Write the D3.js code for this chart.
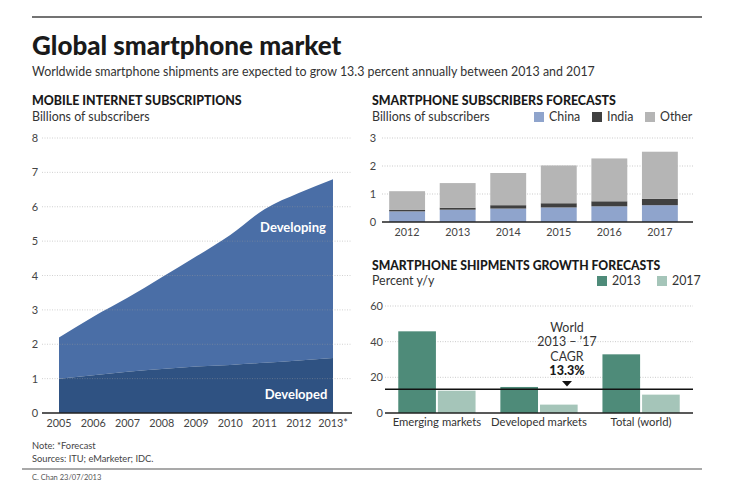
<!DOCTYPE html>
<html><head><meta charset="utf-8">
<script src="https://cdn.jsdelivr.net/npm/d3@7/dist/d3.min.js"></script>
<style>
html,body{margin:0;padding:0;background:#fff;}
svg{display:block;font-family:Lato,"Open Sans",sans-serif;}
</style></head>
<body>
<svg id="c" width="738" height="493"></svg>
<script>
// ---- Data ----
const areaYears = [2005, 2006, 2007, 2008, 2009, 2010, 2011, 2012, 2013];
const areaYearLabels = ["2005","2006","2007","2008","2009","2010","2011","2012","2013*"];
const developed = [1.0, 1.1, 1.2, 1.28, 1.35, 1.4, 1.46, 1.53, 1.6];
const totalSubs = [2.2, 2.8, 3.35, 3.95, 4.55, 5.18, 5.93, 6.4, 6.8];
const areaTicks = [0,1,2,3,4,5,6,7,8];

const forecastYears = ["2012","2013","2014","2015","2016","2017"];
const china = [0.38, 0.44, 0.48, 0.52, 0.56, 0.60];
const india = [0.05, 0.07, 0.12, 0.15, 0.18, 0.23];
const other = [0.67, 0.88, 1.15, 1.35, 1.53, 1.68];
const forecastTicks = [0,1,2,3];

const markets = ["Emerging markets","Developed markets","Total (world)"];
const growth2013 = [45.8, 14.6, 32.9];
const growth2017 = [12.5, 4.7, 10.3];
const growthTicks = [0,20,40,60];
const cagr = 13.3;

// ---- Setup ----
const svg = d3.select("#c");
const txt = (x, y, s, o = {}) => svg.append("text").attr("x", x).attr("y", y).text(s)
  .attr("font-size", o.size || 12).attr("fill", o.fill || "#333")
  .attr("font-weight", o.weight || "normal").attr("text-anchor", o.anchor || "start");

// Header
svg.append("line").attr("x1", 32).attr("x2", 702).attr("y1", 17).attr("y2", 17).attr("stroke", "#444").attr("stroke-width", 1.5);
txt(32, 55, "Global smartphone market", {size: 26, weight: "900", fill: "#1a1a1a"});
txt(32, 76, "Worldwide smartphone shipments are expected to grow 13.3 percent annually between 2013 and 2017", {size: 12.4, fill: "#333"});

// ---- Left: area chart ----
const xA = d3.scaleLinear().domain([2005, 2013]).range([59, 333]);
const yA = d3.scaleLinear().domain([0, 8]).range([413, 138]);
txt(32, 105, "MOBILE INTERNET SUBSCRIPTIONS", {size: 12.4, weight: "900", fill: "#1a1a1a"});
txt(32, 121, "Billions of subscribers", {size: 12.4, fill: "#333"});

const areaData = areaYears.map((y, i) => ({year: y, dev: developed[i], tot: totalSubs[i]}));
const curve = d3.curveMonotoneX;
svg.append("path").datum(areaData)
  .attr("d", d3.area().x(d => xA(d.year)).y0(d => yA(d.dev)).y1(d => yA(d.tot)).curve(curve))
  .attr("fill", "#4a6ea6");
svg.append("path").datum(areaData)
  .attr("d", d3.area().x(d => xA(d.year)).y0(yA(0)).y1(d => yA(d.dev)).curve(curve))
  .attr("fill", "#2f5282");

// gridlines
const gA = svg.append("g");
gA.selectAll("line.g").data(areaTicks.filter(t => t > 0)).join("line")
  .attr("x1", 42).attr("x2", 352).attr("y1", d => yA(d)).attr("y2", d => yA(d))
  .attr("stroke", "#999").attr("stroke-opacity", 0.45).attr("stroke-width", 1).attr("stroke-dasharray", "1,1.5");
gA.selectAll("text").data(areaTicks).join("text")
  .attr("x", 35).attr("y", d => yA(d) + 4).attr("text-anchor", "middle")
  .attr("font-size", 11).attr("fill", "#444").text(d => d);
svg.append("line").attr("x1", 42).attr("x2", 352).attr("y1", yA(0)).attr("y2", yA(0)).attr("stroke", "#222").attr("stroke-width", 1.3);
svg.selectAll("text.xa").data(areaYears).join("text").attr("class", "xa")
  .attr("x", d => xA(d)).attr("y", 427).attr("text-anchor", "middle")
  .attr("font-size", 10.8).attr("fill", "#444").text((d, i) => areaYearLabels[i]);
txt(293, 232, "Developing", {size: 13, weight: "bold", fill: "#fff", anchor: "middle"});
txt(296, 399, "Developed", {size: 13, weight: "bold", fill: "#fff", anchor: "middle"});

// Footer
txt(32, 449, "Note: *Forecast", {size: 9.3, fill: "#444"});
txt(32, 462, "Sources: ITU; eMarketer; IDC.", {size: 9.3, fill: "#444"});
svg.append("line").attr("x1", 22).attr("x2", 702).attr("y1", 469).attr("y2", 469).attr("stroke", "#555").attr("stroke-width", 1.2);
txt(32, 480, "C. Chan 23/07/2013", {size: 7.5, fill: "#555"});

// ---- Top right: stacked bars ----
txt(372, 105, "SMARTPHONE SUBSCRIBERS FORECASTS", {size: 12.4, weight: "900", fill: "#1a1a1a"});
txt(372, 121, "Billions of subscribers", {size: 12.4, fill: "#333"});
const stackColors = {china: "#8fa4cc", india: "#404040", other: "#b5b5b5"};
const legend1 = [["china", "China", 534], ["india", "India", 592], ["other", "Other", 645]];
legend1.forEach(([k, lab, x]) => {
  svg.append("rect").attr("x", x).attr("y", 112).attr("width", 10).attr("height", 10).attr("fill", stackColors[k]);
  txt(x + 15, 121, lab, {size: 12.4, fill: "#333"});
});
const xB = d3.scaleBand().domain(forecastYears).range([374, 693]).paddingInner(0.29).paddingOuter(0.3);
const yB = d3.scaleLinear().domain([0, 3]).range([222, 138]);
svg.selectAll("line.gb").data(forecastTicks.filter(t => t > 0)).join("line").attr("class", "gb")
  .attr("x1", 382).attr("x2", 693).attr("y1", d => yB(d)).attr("y2", d => yB(d))
  .attr("stroke", "#999").attr("stroke-opacity", 0.5).attr("stroke-dasharray", "1,1.5");
svg.selectAll("text.yb").data(forecastTicks).join("text").attr("class", "yb")
  .attr("x", 373).attr("y", d => yB(d) + 4).attr("text-anchor", "middle")
  .attr("font-size", 11).attr("fill", "#444").text(d => d);
const stackData = forecastYears.map((y, i) => ({year: y, china: china[i], india: india[i], other: other[i]}));
const series = d3.stack().keys(["china", "india", "other"])(stackData);
svg.append("g").selectAll("g").data(series).join("g").attr("fill", s => stackColors[s.key])
  .selectAll("rect").data(s => s).join("rect")
  .attr("x", d => xB(d.data.year)).attr("width", xB.bandwidth())
  .attr("y", d => yB(d[1])).attr("height", d => yB(d[0]) - yB(d[1]));
svg.append("line").attr("x1", 382).attr("x2", 693).attr("y1", yB(0)).attr("y2", yB(0)).attr("stroke", "#222").attr("stroke-width", 1.3);
svg.selectAll("text.xb").data(forecastYears).join("text").attr("class", "xb")
  .attr("x", d => xB(d) + xB.bandwidth() / 2).attr("y", 236).attr("text-anchor", "middle")
  .attr("font-size", 10.8).attr("fill", "#444").text(d => d);

// ---- Bottom right: grouped bars ----
txt(372, 270, "SMARTPHONE SHIPMENTS GROWTH FORECASTS", {size: 12.2, weight: "900", fill: "#1a1a1a"});
txt(372, 285, "Percent y/y", {size: 12.4, fill: "#333"});
const grpColors = {"2013": "#4e8b79", "2017": "#a5c5b9"};
[["2013", 597], ["2017", 657]].forEach(([k, x]) => {
  svg.append("rect").attr("x", x).attr("y", 276).attr("width", 10).attr("height", 10).attr("fill", grpColors[k]);
  txt(x + 15, 285, k, {size: 12.4, fill: "#333"});
});
const xC = d3.scaleBand().domain(markets).range([385, 693]).paddingInner(0.243).paddingOuter(0.13);
const xC2 = d3.scaleBand().domain(["2013", "2017"]).range([0, xC.bandwidth()]).paddingInner(0.05);
const yC = d3.scaleLinear().domain([0, 60]).range([413, 306]);
svg.selectAll("line.gc").data(growthTicks.filter(t => t > 0)).join("line").attr("class", "gc")
  .attr("x1", 385).attr("x2", 693).attr("y1", d => yC(d)).attr("y2", d => yC(d))
  .attr("stroke", "#999").attr("stroke-opacity", 0.5).attr("stroke-dasharray", "1,1.5");
svg.selectAll("text.yc").data(growthTicks).join("text").attr("class", "yc")
  .attr("x", 383).attr("y", d => yC(d) + 4).attr("text-anchor", "end")
  .attr("font-size", 11).attr("fill", "#444").text(d => d);
const grpData = markets.map((m, i) => ({market: m, vals: [{k: "2013", v: growth2013[i]}, {k: "2017", v: growth2017[i]}]}));
svg.append("g").selectAll("g").data(grpData).join("g")
  .attr("transform", d => `translate(${xC(d.market)},0)`)
  .selectAll("rect").data(d => d.vals).join("rect")
  .attr("x", d => xC2(d.k)).attr("width", xC2.bandwidth())
  .attr("y", d => yC(d.v)).attr("height", d => yC(0) - yC(d.v)).attr("fill", d => grpColors[d.k]);
svg.append("line").attr("x1", 385).attr("x2", 693).attr("y1", yC(0)).attr("y2", yC(0)).attr("stroke", "#222").attr("stroke-width", 1.3);
svg.append("line").attr("x1", 385).attr("x2", 693).attr("y1", yC(cagr)).attr("y2", yC(cagr)).attr("stroke", "#111").attr("stroke-width", 1.5);
svg.selectAll("text.xc").data(markets).join("text").attr("class", "xc")
  .attr("x", d => xC(d) + xC.bandwidth() / 2).attr("y", 426).attr("text-anchor", "middle")
  .attr("font-size", 11.3).attr("fill", "#333").text(d => d);
const ax = 567;
txt(ax, 332, "World", {size: 12.4, anchor: "middle", fill: "#333"});
txt(ax, 346, "2013 – \u201917", {size: 12.4, anchor: "middle", fill: "#333"});
txt(ax, 361, "CAGR", {size: 12.4, anchor: "middle", fill: "#333"});
txt(ax, 375, cagr.toFixed(1) + "%", {size: 12.6, anchor: "middle", weight: "900", fill: "#1a1a1a"});
svg.append("path").attr("d", `M${ax - 5},381 L${ax + 5},381 L${ax},386.5 Z`).attr("fill", "#111");
</script>
</body></html>
